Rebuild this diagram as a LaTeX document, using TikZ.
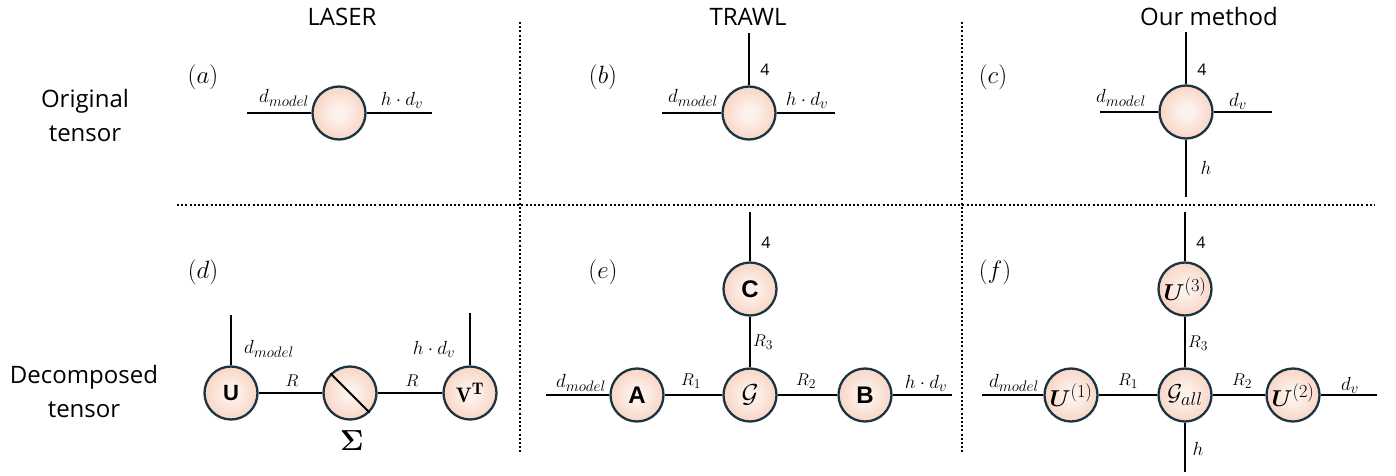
\documentclass[tikz,border=0pt]{standalone}
\usepackage{fix-cm}
\usepackage{amsmath,bm}
\usepackage{fontspec}
\setsansfont{Open Sans}
\newfontfamily\boxfont{Liberation Sans}
\usetikzlibrary{positioning}
\def\defaultscriptratio{.8}
\definecolor{tnedge}{HTML}{1C3341}
\definecolor{tnlight}{HTML}{FDF1EB}
\definecolor{tnpeach}{HTML}{F2B293}
\pgfdeclareradialshading{tnball}{\pgfpoint{0bp}{0bp}}{color(0bp)=(tnlight); color(6bp)=(tnlight); color(50bp)=(tnpeach)}
\tikzset{
  tn/.style={circle, draw=tnedge, line width=2.3pt, minimum size=53pt, inner sep=0pt, shading=tnball},
  leg/.style={line width=2pt},
  sepline/.style={line width=1.6pt, dash pattern=on 2pt off 2.2pt},
  head/.style={font=\fontsize{24}{28}\selectfont\sffamily},
  rowlab/.style={font=\fontsize{24}{34}\selectfont\sffamily, align=center},
  tag/.style={font=\fontsize{25}{29}\selectfont},
  dim/.style={font=\fontsize{19}{22}\selectfont},
  rank/.style={font=\fontsize{17}{20}\selectfont},
  num/.style={font=\fontsize{16}{19}\selectfont\sffamily},
  sfb/.style={font=\fontsize{24}{28}\selectfont\boxfont\bfseries},
  mb/.style={font=\fontsize{23}{26}\selectfont},
}
\begin{document}
\begin{tikzpicture}[x=1pt,y=-1pt]
  \useasboundingbox (0,0) rectangle (1396,476);
  \node[head] (hl) at (342,17) {LASER};
  \node[head] (ht) at (748,17) {TRAWL};
  \node[head] (ho) at (1209,17) {Our method};
  \node[rowlab] (ro) at (85,115) {Original\\tensor};
  \node[rowlab] (rd) at (84,391) {Decomposed\\tensor};
  \draw[sepline] (520,22) -- (520,452);
  \draw[sepline] (962,22) -- (962,452);
  \draw[sepline] (177,205) -- (1375,205);
  % (a)
  \node[tag] (ta) at (203,77) {$(a)$};
  \node[tn] (a0) at (339,113) {};
  \coordinate (al) at (247,113);
  \coordinate (ar) at (432,113);
  \node[dim] at (284,98) {$d_{model}$};
  \node[dim] at (402,100) {$h\cdot d_v$};
  % (b)
  \node[tag] (tb) at (603,77) {$(b)$};
  \node[tn] (b0) at (749,113) {};
  \coordinate (bl) at (662,113);
  \coordinate (br) at (835,113);
  \coordinate (bt) at (749,33);
  \node[num] at (765,70) {4};
  \node[dim] at (693,98) {$d_{model}$};
  \node[dim] at (807,100) {$h\cdot d_v$};
  % (c)
  \node[tag] (tc) at (993,77) {$(c)$};
  \node[tn] (c0) at (1186,112) {};
  \coordinate (cl) at (1100,112);
  \coordinate (cr) at (1272,112);
  \coordinate (ct) at (1186,32);
  \coordinate (cb) at (1186,197);
  \node[num] at (1202,70) {4};
  \node[dim] at (1206,168) {$h$};
  \node[dim] at (1121,98) {$d_{model}$};
  \node[dim] at (1238,101) {$d_v$};
  % (d)
  \node[tag] (td) at (203,272) {$(d)$};
  \node[tn] (d0) at (231,393) {\fontsize{22}{26}\selectfont\boxfont\bfseries U};
  \node[tn] (d1) at (350,393) {};
  \node[tn] (d2) at (470,393) {\fontsize{21}{24}\selectfont$\mathbf{V}^{\mathbf{T}}$};
  \coordinate (dt0) at (231,315);
  \coordinate (dt2) at (470,313);
  \node[font=\fontsize{29}{33}\selectfont] at (352,441) {$\boldsymbol{\Sigma}$};
  \node[dim] at (269,349) {$d_{model}$};
  \node[dim] at (434,349) {$h\cdot d_v$};
  \node[rank] at (292,381) {$R$};
  \node[rank] at (412,381) {$R$};
  % (e)
  \node[tag] (te) at (603,272) {$(e)$};
  \node[tn] (e0) at (637,395) {};
  \node[tn] (e1) at (750,395) {};
  \node[tn] (e2) at (865,395) {};
  \node[tn] (e3) at (750,289) {};
  \node[sfb] at (e0) {A};
  \node[font=\fontsize{26}{30}\selectfont] at (e1) {$\mathcal{G}$};
  \node[sfb] at (e2) {B};
  \node[sfb] at (e3) {C};
  \coordinate (el) at (546,395);
  \coordinate (er) at (952,395);
  \coordinate (et) at (750,212);
  \node[num] at (766,243) {4};
  \node[dim] at (581,383) {$d_{model}$};
  \node[dim] at (926,383) {$h\cdot d_v$};
  \node[rank] at (691,381) {$R_1$};
  \node[rank] at (806,381) {$R_2$};
  \node[rank] at (763,342) {$R_3$};
  % (f)
  \node[tag] (tf) at (995,272) {$(f)$};
  \node[tn] (f0) at (1071,395) {};
  \node[tn] (f1) at (1185,395) {};
  \node[tn] (f2) at (1293,395) {};
  \node[tn] (f3) at (1185,289) {};
  \node[mb] at (f0) {$\bm{U}^{(1)}$};
  \node[mb] at (f1) {$\mathcal{G}_{all}$};
  \node[mb] at (f2) {$\bm{U}^{(2)}$};
  \node[mb] at (f3) {$\bm{U}^{(3)}$};
  \coordinate (fl) at (982,395);
  \coordinate (fr) at (1377,395);
  \coordinate (ft) at (1185,212);
  \coordinate (fb) at (1185,472);
  \node[num] at (1201,243) {4};
  \node[dim] at (1198,449) {$h$};
  \node[dim] at (1014,383) {$d_{model}$};
  \node[dim] at (1350,385) {$d_v$};
  \node[rank] at (1128,381) {$R_1$};
  \node[rank] at (1242,381) {$R_2$};
  \node[rank] at (1198,343) {$R_3$};
  \begin{scope}[leg]
    \draw (al) to (a0);
    \draw (a0) to (ar);
    \draw (bl) to (b0);
    \draw (b0) to (br);
    \draw (bt) to (b0);
    \draw (cl) to (c0);
    \draw (c0) to (cr);
    \draw (ct) to (c0);
    \draw (c0) to (cb);
    \draw (dt0) to (d0);
    \draw (dt2) to (d2);
    \draw (d0) to (d1);
    \draw (d1) to (d2);
    \draw (d1.135) to (d1.-45);
    \draw (el) to (e0);
    \draw (e0) to (e1);
    \draw (e1) to (e2);
    \draw (e2) to (er);
    \draw (e1) to (e3);
    \draw (e3) to (et);
    \draw (fl) to (f0);
    \draw (f0) to (f1);
    \draw (f1) to (f2);
    \draw (f2) to (fr);
    \draw (f1) to (f3);
    \draw (f3) to (ft);
    \draw (f1) to (fb);
  \end{scope}
\end{tikzpicture}
\end{document}
